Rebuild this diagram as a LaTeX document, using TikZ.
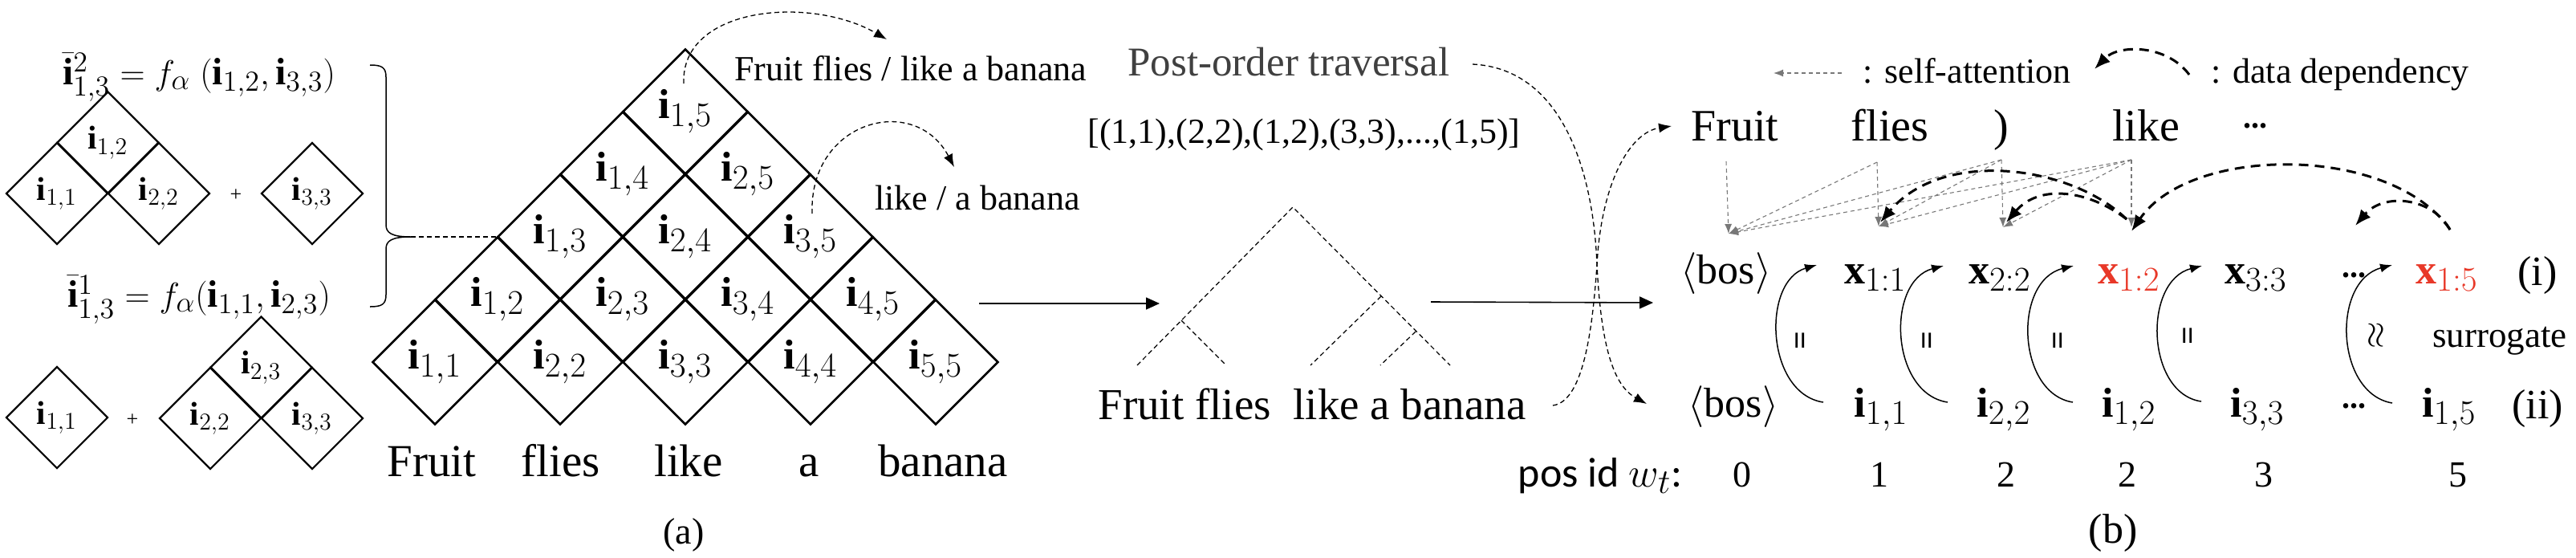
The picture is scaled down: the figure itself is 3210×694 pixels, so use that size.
\documentclass[tikz,border=0pt]{standalone}
\usepackage{amsmath}
\usepackage{fontspec}
\setmainfont{Liberation Serif}
\newfontfamily\calfont{Carlito}
\def\defaultscriptratio{.8}
\def\defaultscriptscriptratio{.65}
\usetikzlibrary{shapes.geometric,arrows.meta,calc}
\definecolor{myred}{RGB}{232,56,40}
\definecolor{attgray}{RGB}{120,120,120}
\definecolor{txtgray}{RGB}{64,64,64}
\tikzset{
  txt/.style={font=\fontsize{#1}{#1}\selectfont, inner sep=0.4pt},
  cell/.style={diamond, draw, line width=1.04pt, minimum width=62.4pt, minimum height=62.4pt, inner sep=0pt, font=\fontsize{20.8}{20.8}\selectfont},
  scell/.style={diamond, draw, line width=0.88pt, minimum width=50.8pt, minimum height=50.8pt, inner sep=0pt, font=\fontsize{16.4}{16.4}\selectfont},
  thindash/.style={line width=0.52pt, dash pattern=on 2.4pt off 1.6pt},
  anntip/.style={-{Latex[length=6.4pt,width=4.8pt]}},
  solidarr/.style={line width=0.64pt, -{Triangle[length=6.8pt,width=6pt]}},
  curvearr/.style={line width=0.6pt, -{Latex[length=6pt,width=4.4pt]}},
  attn/.style={draw=attgray, line width=0.44pt, dash pattern=on 2pt off 1.6pt, -{Latex[length=4.8pt,width=3.6pt]}, attgray},
  dep/.style={line width=1.2pt, dash pattern=on 4.8pt off 3.2pt, -{Latex[length=8pt,width=6.4pt]}},
  treeline/.style={line width=0.48pt, dash pattern=on 2.4pt off 1.6pt},
}
\begin{document}
\begin{tikzpicture}[x=0.4pt,y=-0.4pt]
\useasboundingbox (0,0) rectangle (3210,694);

% ---------- left: equations and small diamonds ----------
\node[txt=19, anchor=base] (eqa) at (248,105) {$\bar{\mathbf{i}}^{2}_{1,3} = f_{\alpha}\;(\mathbf{i}_{1,2}, \mathbf{i}_{3,3})$};
\node[scell] (la11) at (71,241) {$\mathbf{i}_{1,1}$};
\node[scell] (la12) at (134.5,177.5) {$\mathbf{i}_{1,2}$};
\node[scell] (la22) at (198,241) {$\mathbf{i}_{2,2}$};
\node[txt=10.4] (pla) at (294,243) {+};
\node[scell] (la33) at (389,241) {$\mathbf{i}_{3,3}$};

\node[txt=19, anchor=base] (eqb) at (248,382) {$\bar{\mathbf{i}}^{1}_{1,3} = f_{\alpha}(\mathbf{i}_{1,1}, \mathbf{i}_{2,3})$};
\node[scell] (lb11) at (71,520) {$\mathbf{i}_{1,1}$};
\node[txt=10.4] (plb) at (165,523) {+};
\node[scell] (lb22) at (262,521) {$\mathbf{i}_{2,2}$};
\node[scell] (lb23) at (325.5,457.5) {$\mathbf{i}_{2,3}$};
\node[scell] (lb33) at (389,521) {$\mathbf{i}_{3,3}$};

% brace
\draw[line width=0.6pt] (461,81) .. controls (476,81) and (481,84) .. (481,96) -- (481,280)
  .. controls (481,290) and (488,295) .. (512,295)
  .. controls (488,295) and (481,300) .. (481,310) -- (481,367)
  .. controls (481,379) and (476,382) .. (461,382);
\coordinate (brtip) at (512,295);

% ---------- pyramid ----------
\foreach \i in {1,...,5}{
  \foreach \j in {\i,...,5}{
    \pgfmathsetmacro\cx{542+78*(\i+\j-2)}
    \pgfmathsetmacro\cy{451-78*(\j-\i)}
    \node[cell] (c\i\j) at (\cx,\cy) {$\mathbf{i}_{\i,\j}$};
  }
}
\draw[thindash] (brtip) -- (c13.west);

\node[txt=22.8, anchor=base] (wa1) at (538,593) {Fruit};
\node[txt=22.8, anchor=base] (wa2) at (699,593) {flies};
\node[txt=22.8, anchor=base] (wa3) at (858,593) {like};
\node[txt=22.8, anchor=base] (wa4) at (1008,593) {a};
\node[txt=22.8, anchor=base] (wa5) at (1175,593) {banana};
\node[txt=18.4, anchor=base] (capa) at (852,677) {(a)};

\node[txt=17.6, anchor=base west] (ann1) at (914,100) {Fruit flies / like a banana};
\node[txt=17.6, anchor=base west] (ann2) at (1089,261) {like / a banana};
\draw[thindash, anntip] ($(c15.center)+(-2,-35)$) .. controls (848,8) and (1010,-6) .. (1105,49);
\draw[thindash, anntip] ($(c35.center)+(2,-29)$) .. controls (1008,150) and (1140,115) .. (1189,208);

\coordinate (pyrR) at (1220,378);
\coordinate (treeL) at (1445,378);
\draw[solidarr] (pyrR) -- (treeL);

% ---------- middle: traversal and tree ----------
\node[txt=20.4, text=txtgray, anchor=base] (post) at (1606,94) {Post-order traversal};
\node[txt=17.6] (order) at (1625,168) {[(1,1),(2,2),(1,2),(3,3),...,(1,5)]};

\coordinate (tA) at (1611,258);
\coordinate (tLL) at (1417,455);
\coordinate (tRL) at (1807,455);
\coordinate (tB) at (1472,399);
\coordinate (tBl) at (1528,455);
\coordinate (tC) at (1721,369);
\coordinate (tCl) at (1633,455);
\coordinate (tD) at (1764,413);
\coordinate (tDl) at (1720,455);
\draw[treeline] (tLL) -- (tA) -- (tRL);
\draw[treeline] (tB) -- (tBl);
\draw[treeline] (tC) -- (tCl);
\draw[treeline] (tD) -- (tDl);

\node[txt=22, anchor=base] (sent) at (1635,522) {Fruit flies\ \ like a banana};

\coordinate (treeR) at (1783,376);
\coordinate (bosIn) at (2060,377);
\draw[solidarr] (treeR) -- (bosIn);

\coordinate (postR) at (1835,80);
\coordinate (bosTip) at (2052,503);
\coordinate (sentR) at (1935,505);
\coordinate (fruitTip) at (2083,157);
\draw[thindash, anntip] (postR) .. controls (1940,85) and (1985,200) .. (1990,330)
   .. controls (1995,430) and (2010,480) .. (bosTip);
\draw[thindash, anntip] (sentR) .. controls (1975,500) and (1985,400) .. (1990,330)
   .. controls (1995,230) and (2030,165) .. (fruitTip);

% ---------- right: legend ----------
\node[txt=17.6, anchor=base west] (lsa) at (2320,103) {: self-attention};
\coordinate (lsa1) at (2295,91);
\coordinate (lsa2) at (2210,91);
\draw[attn] (lsa1) -- (lsa2);
\node[txt=17.6, anchor=base west] (ldd) at (2754,103) {: data dependency};
\coordinate (ldd1) at (2728,93);
\coordinate (ldd2) at (2610,86);
\draw[dep] (ldd1) .. controls (2700,55) and (2640,55) .. (ldd2);

% words
\node[txt=22.4, anchor=base] (bF) at (2162,175) {Fruit};
\node[txt=22.4, anchor=base] (bfl) at (2355,175) {flies};
\node[txt=22.4, anchor=base] (bpar) at (2494,175) {)};
\node[txt=22.4, anchor=base] (blike) at (2674,175) {like};
\node[txt=16] (bdots) at (2810,157) {\textbf{...}};

% row (i)
\node[txt=20.8, anchor=base] (bosT) at (2151,353) {$\langle$bos$\rangle$};
\node[txt=20.8, anchor=base] (x11) at (2337,353) {$\mathbf{x}_{1:1}$};
\node[txt=20.8, anchor=base] (x22) at (2492,353) {$\mathbf{x}_{2:2}$};
\node[txt=20.8, anchor=base, text=myred] (x12) at (2653,353) {$\mathbf{x}_{1:2}$};
\node[txt=20.8, anchor=base] (x33) at (2811,353) {$\mathbf{x}_{3:3}$};
\node[txt=16] (dI) at (2933,343) {\textbf{...}};
\node[txt=20.8, anchor=base, text=myred] (x15) at (3049,353) {$\mathbf{x}_{1:5}$};
\node[txt=20.8, anchor=base] (ri) at (3162,355) {(i)};

% row (ii)
\node[txt=20.8, anchor=base] (bosB) at (2160,519) {$\langle$bos$\rangle$};
\node[txt=20.8, anchor=base] (i11) at (2344,519) {$\mathbf{i}_{1,1}$};
\node[txt=20.8, anchor=base] (i22) at (2497,519) {$\mathbf{i}_{2,2}$};
\node[txt=20.8, anchor=base] (i12) at (2653,519) {$\mathbf{i}_{1,2}$};
\node[txt=20.8, anchor=base] (i33) at (2813,519) {$\mathbf{i}_{3,3}$};
\node[txt=16] (dII) at (2933,506) {\textbf{...}};
\node[txt=20.8, anchor=base] (i15) at (3052,519) {$\mathbf{i}_{1,5}$};
\node[txt=20.8, anchor=base] (rii) at (3162,521) {(ii)};
\node[txt=18, anchor=base] (surr) at (3115,432) {surrogate};

% equal signs
\node[txt=16, rotate=90] (eq1) at (2247,424) {\textbf{=}};
\node[txt=16, rotate=90] (eq2) at (2405,424) {\textbf{=}};
\node[txt=16, rotate=90] (eq3) at (2568,424) {\textbf{=}};
\node[txt=16, rotate=90] (eq4) at (2730,418) {\textbf{=}};
\node[txt=16, rotate=90] (apx) at (2962,418) {$\approx$};

% pos ids
\node[anchor=base east, inner sep=0.4pt, font={\calfont\fontsize{20.8}{20.8}\selectfont}] (pos) at (2098,606) {pos id $w_t$:};
\node[txt=18.4, anchor=base] (n0) at (2171,606) {0};
\node[txt=18.4, anchor=base] (n1) at (2342,606) {1};
\node[txt=18.4, anchor=base] (n2) at (2500,606) {2};
\node[txt=18.4, anchor=base] (n2b) at (2651,606) {2};
\node[txt=18.4, anchor=base] (n3) at (2821,606) {3};
\node[txt=18.4, anchor=base] (n5) at (3063,606) {5};
\node[txt=20.8, anchor=base] (capb) at (2633,676) {(b)};

% curved identity arrows
\draw[curvearr] (2272,501) .. controls (2200,490) and (2195,350) .. (2264,330);
\draw[curvearr] (2427,501) .. controls (2355,490) and (2350,350) .. (2422,331);
\draw[curvearr] (2583,501) .. controls (2513,490) and (2508,350) .. (2584,331);
\draw[curvearr] (2743,500) .. controls (2674,490) and (2670,350) .. (2744,331);
\draw[curvearr] (2981,502) .. controls (2910,490) and (2905,350) .. (2981,330);

% self-attention
\coordinate (sF) at (2151,201);
\coordinate (sFl) at (2339,202);
\coordinate (sP) at (2494,199);
\coordinate (sL) at (2656,199);
\coordinate (aB) at (2154,291);
\coordinate (a11) at (2341,282);
\coordinate (a22) at (2496,283);
\coordinate (a12) at (2656,283);
\draw[attn] (sF) -- (aB);
\draw[attn] (sFl) -- (aB);
\draw[attn] (sFl) -- (a11);
\draw[attn] (sP) -- (aB);
\draw[attn] (sP) -- (a11);
\draw[attn] (sP) -- (a22);
\draw[attn] (sL) -- (aB);
\draw[attn] (sL) -- (a11);
\draw[attn] (sL) -- (a22);
\draw[attn] (sL) -- (a12);

% data dependency
\coordinate (d12) at (2650,273);
\coordinate (d15) at (3053,286);
\draw[dep] (d12) .. controls (2580,205) and (2420,185) .. (2343,277);
\draw[dep] (d12) .. controls (2600,235) and (2540,230) .. (2500,277);
\draw[dep] (d15) .. controls (2980,180) and (2730,180) .. (2656,288);
\draw[dep] (d15) .. controls (3030,245) and (2970,240) .. (2935,281);
\end{tikzpicture}
\end{document}
